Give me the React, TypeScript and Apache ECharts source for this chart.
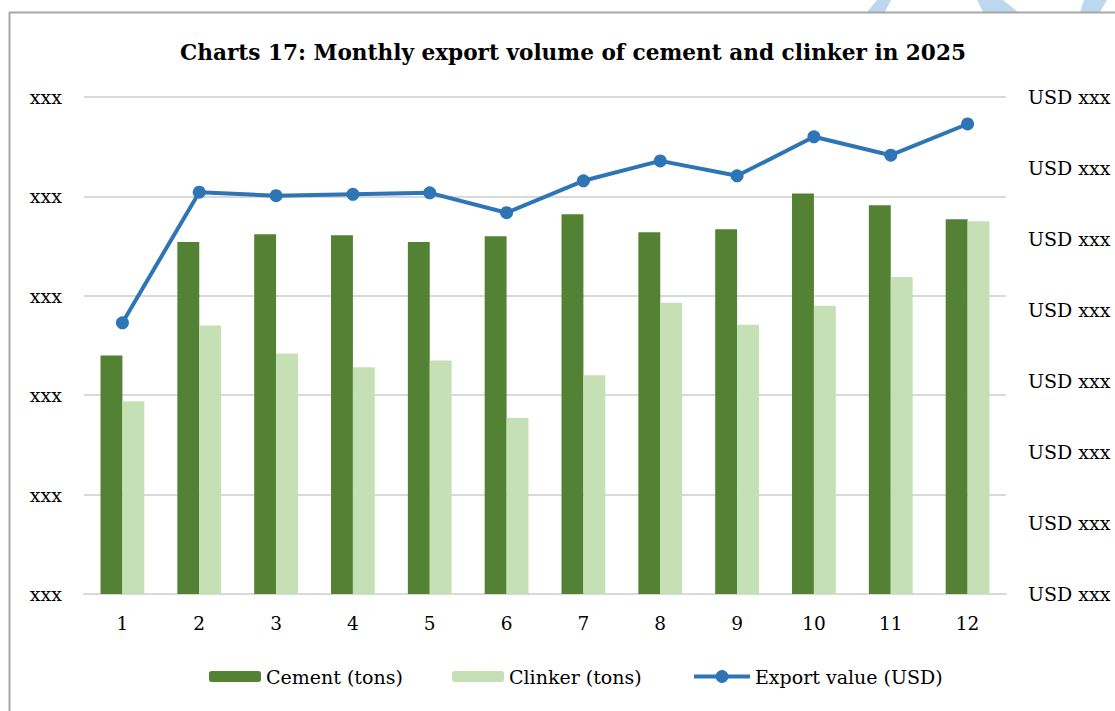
import React, { useEffect, useRef } from "react";
import * as echarts from "echarts";

const months = ["1", "2", "3", "4", "5", "6", "7", "8", "9", "10", "11", "12"];
const cementTons = [2.4, 3.54, 3.62, 3.61, 3.54, 3.6, 3.82, 3.64, 3.67, 4.03, 3.91, 3.77];
const clinkerTons = [1.94, 2.7, 2.42, 2.28, 2.35, 1.77, 2.2, 2.93, 2.71, 2.9, 3.19, 3.75];
const exportUsd = [3.82, 5.66, 5.61, 5.63, 5.65, 5.37, 5.82, 6.1, 5.89, 6.44, 6.18, 6.62];
const leftTickLabel = "xxx";
const rightTickLabel = "USD xxx";
const titleText = "Charts 17: Monthly export volume of cement and clinker in 2025";
const seriesNames = ["Cement (tons)", "Clinker (tons)", "Export value (USD)"];

const FONT = "DejaVu Serif";

export default function App() {
  const ref = useRef<HTMLDivElement>(null);
  useEffect(() => {
    if (!ref.current) return;
    const chart = echarts.init(ref.current, undefined, { renderer: "svg" });
    const wm = "#BDD7EE";
    chart.setOption({
      animation: false,
      backgroundColor: "#ffffff",
      textStyle: { fontFamily: FONT },
      title: {
        text: titleText,
        left: 568,
        textAlign: "center",
        top: 36,
        textStyle: { fontFamily: FONT, fontSize: 21.6, fontWeight: "bold", color: "#000" },
      },
      graphic: [
        { type: "polygon", shape: { points: [[877, 0], [891, 0], [885, 12], [867, 12]] }, style: { fill: wm }, z: 0 },
        { type: "polygon", shape: { points: [[977, 0], [1003, 0], [1018, 12], [983, 12]] }, style: { fill: wm }, z: 0 },
        { type: "polygon", shape: { points: [[1084, 0], [1107, 0], [1100, 12], [1080, 12]] }, style: { fill: wm }, z: 0 },
        { type: "line", shape: { x1: 9, y1: 12.5, x2: 1115, y2: 12.5 }, style: { stroke: "#A6A6A6", lineWidth: 2 }, z: 1 },
        { type: "line", shape: { x1: 9.5, y1: 12, x2: 9.5, y2: 711 }, style: { stroke: "#A6A6A6", lineWidth: 2 }, z: 1 },
      ],
      grid: { left: 84, right: 109, top: 97, bottom: 117 },
      legend: [
        {
          data: [seriesNames[0]], left: 204, top: 662, itemWidth: 52, itemHeight: 11, itemGap: 6,
          textStyle: { fontFamily: FONT, fontSize: 19, color: "#000" },
        },
        {
          data: [seriesNames[1]], left: 447, top: 662, itemWidth: 52, itemHeight: 11, itemGap: 6,
          textStyle: { fontFamily: FONT, fontSize: 19, color: "#000" },
        },
        {
          data: [seriesNames[2]], left: 687, top: 662, itemWidth: 56, itemHeight: 16, itemGap: 4,
          lineStyle: { width: 4 },
          textStyle: { fontFamily: FONT, fontSize: 19, color: "#000" },
        },
      ],
      xAxis: {
        type: "category",
        data: months,
        axisLine: { show: true, lineStyle: { color: "#D9D9D9", width: 2 } },
        axisTick: { show: false },
        axisLabel: { fontFamily: FONT, fontSize: 18.5, color: "#000", margin: 20 },
      },
      yAxis: [
        {
          type: "value", min: 0, max: 5, interval: 1,
          axisLine: { show: false }, axisTick: { show: false },
          splitLine: { lineStyle: { color: "#D9D9D9", width: 2 } },
          axisLabel: { formatter: () => leftTickLabel, fontFamily: FONT, fontSize: 19, color: "#000", margin: 22 },
        },
        {
          type: "value", min: 0, max: 7, interval: 1, position: "right",
          axisLine: { show: false }, axisTick: { show: false }, splitLine: { show: false },
          axisLabel: { formatter: () => rightTickLabel, fontFamily: FONT, fontSize: 19, color: "#000", margin: 22 },
        },
      ],
      series: [
        {
          name: seriesNames[0], type: "bar", data: cementTons, yAxisIndex: 0,
          barGap: "0%", barCategoryGap: "43%",
          itemStyle: { color: "#548235" },
        },
        {
          name: seriesNames[1], type: "bar", data: clinkerTons, yAxisIndex: 0,
          barGap: "0%", barCategoryGap: "43%",
          itemStyle: { color: "#C5E0B4" },
        },
        {
          name: seriesNames[2], type: "line", data: exportUsd, yAxisIndex: 1,
          symbol: "circle", symbolSize: 13,
          lineStyle: { color: "#2E75B6", width: 4 },
          itemStyle: { color: "#2E75B6" },
          z: 5,
        },
      ],
    });
    return () => chart.dispose();
  }, []);
  return (
    <div
      ref={ref}
      style={{ position: "fixed", left: 0, top: 0, width: 1115, height: 711 }}
    />
  );
}
